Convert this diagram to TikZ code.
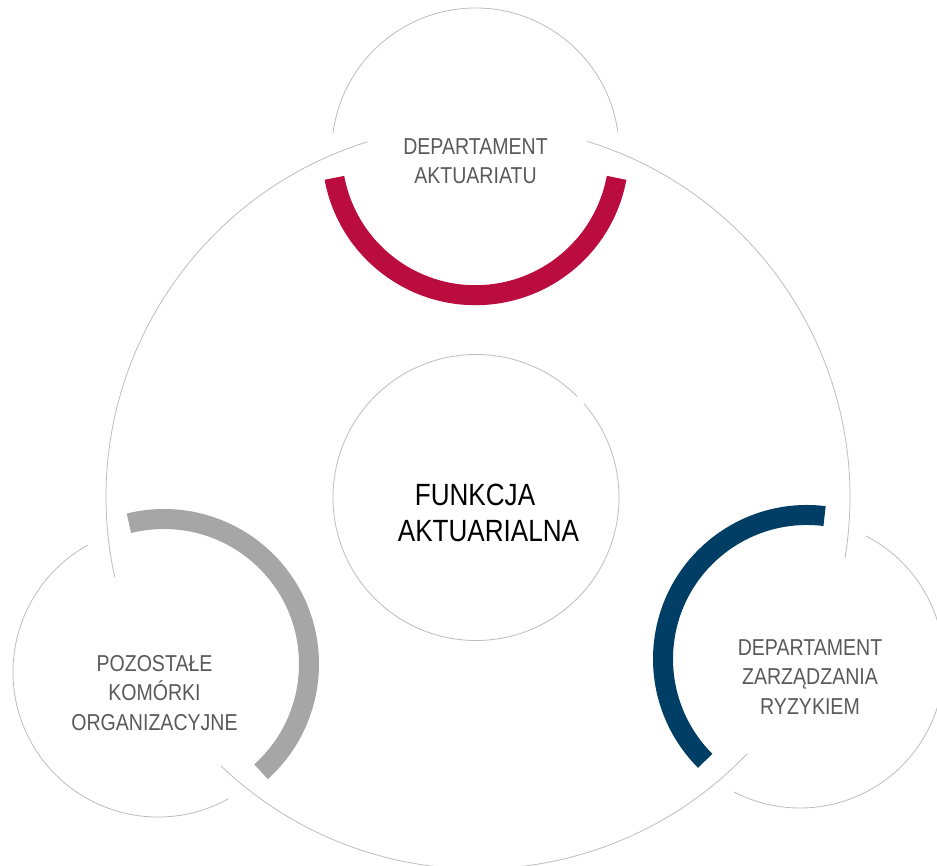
\documentclass[tikz,border=0pt]{standalone}
\usepackage{fontspec}
\setmainfont{Liberation Sans}[FakeStretch=0.85]
\definecolor{aktred}{RGB}{186,12,62}
\definecolor{riskblue}{RGB}{0,62,102}
\definecolor{restgray}{RGB}{166,166,166}
\definecolor{ringgray}{RGB}{190,188,188}
\definecolor{textgray}{RGB}{89,89,89}

\begin{document}
\begin{tikzpicture}[x=1pt,y=1pt,
  ring/.style={draw=ringgray,line width=0.8pt},
  band/.style={line width=20pt,line cap=butt},
  depttext/.style={align=center,text=textgray,inner sep=0pt,
    font=\fontsize{23}{29.5}\selectfont}]

\clip (0,0) rectangle (937,865);

%% centres
\coordinate (mid) at (478,368);
\coordinate (core) at (476,367.5);
\coordinate (top) at (475.5,713.3);
\coordinate (left) at (158,193);
\coordinate (leftband) at (164,201);
\coordinate (right) at (800,201);
\coordinate (rightband) at (807,206);

%% big ring
\draw[ring] ([shift={(107.3:372pt)}]mid) arc[start angle=107.3,end angle=192.4,radius=372pt];
\draw[ring] ([shift={(226.3:372pt)}]mid) arc[start angle=226.3,end angle=316.4,radius=372pt];
\draw[ring] ([shift={(350.6:372pt)}]mid) arc[start angle=350.6,end angle=433,radius=372pt];

%% middle circle
\draw[ring] ([shift={(45:143pt)}]core) arc[start angle=45,end angle=401,radius=143pt];

%% outer circles
\draw[ring] ([shift={(7.5:143.7pt)}]top) arc[start angle=7.5,end angle=172.5,radius=143.7pt];
\draw[ring] ([shift={(119:145pt)}]left) arc[start angle=119,end angle=299,radius=145pt];
\draw[ring] ([shift={(-117.3:144pt)}]right) arc[start angle=-117.3,end angle=62.7,radius=144pt];

%% coloured bands
\draw[band,aktred] ([shift={(190.5:143.5pt)}]top) arc[start angle=190.5,end angle=349.5,radius=143.5pt];
\draw[band,restgray] ([shift={(-48:145pt)}]leftband) arc[start angle=-48,end angle=104,radius=145pt];
\draw[band,riskblue] ([shift={(83:144pt)}]rightband) arc[start angle=83,end angle=225,radius=144pt];

%% texts
\node[depttext] (aktuariat) at (475.5,704) {DEPARTAMENT\\AKTUARIATU};
\node[depttext] (pozostale) at (154.5,172) {POZOSTAŁE\\KOMÓRKI\\ORGANIZACYJNE};
\node[depttext] (ryzyko) at (810,188) {DEPARTAMENT\\ZARZĄDZANIA\\RYZYKIEM};
\node[align=center,inner sep=0pt,font=\fontsize{30.7}{36}\selectfont] (funkcja) at (488.5,352) {FUNKCJA\hspace*{27pt}\\AKTUARIALNA};

\end{tikzpicture}
\end{document}
